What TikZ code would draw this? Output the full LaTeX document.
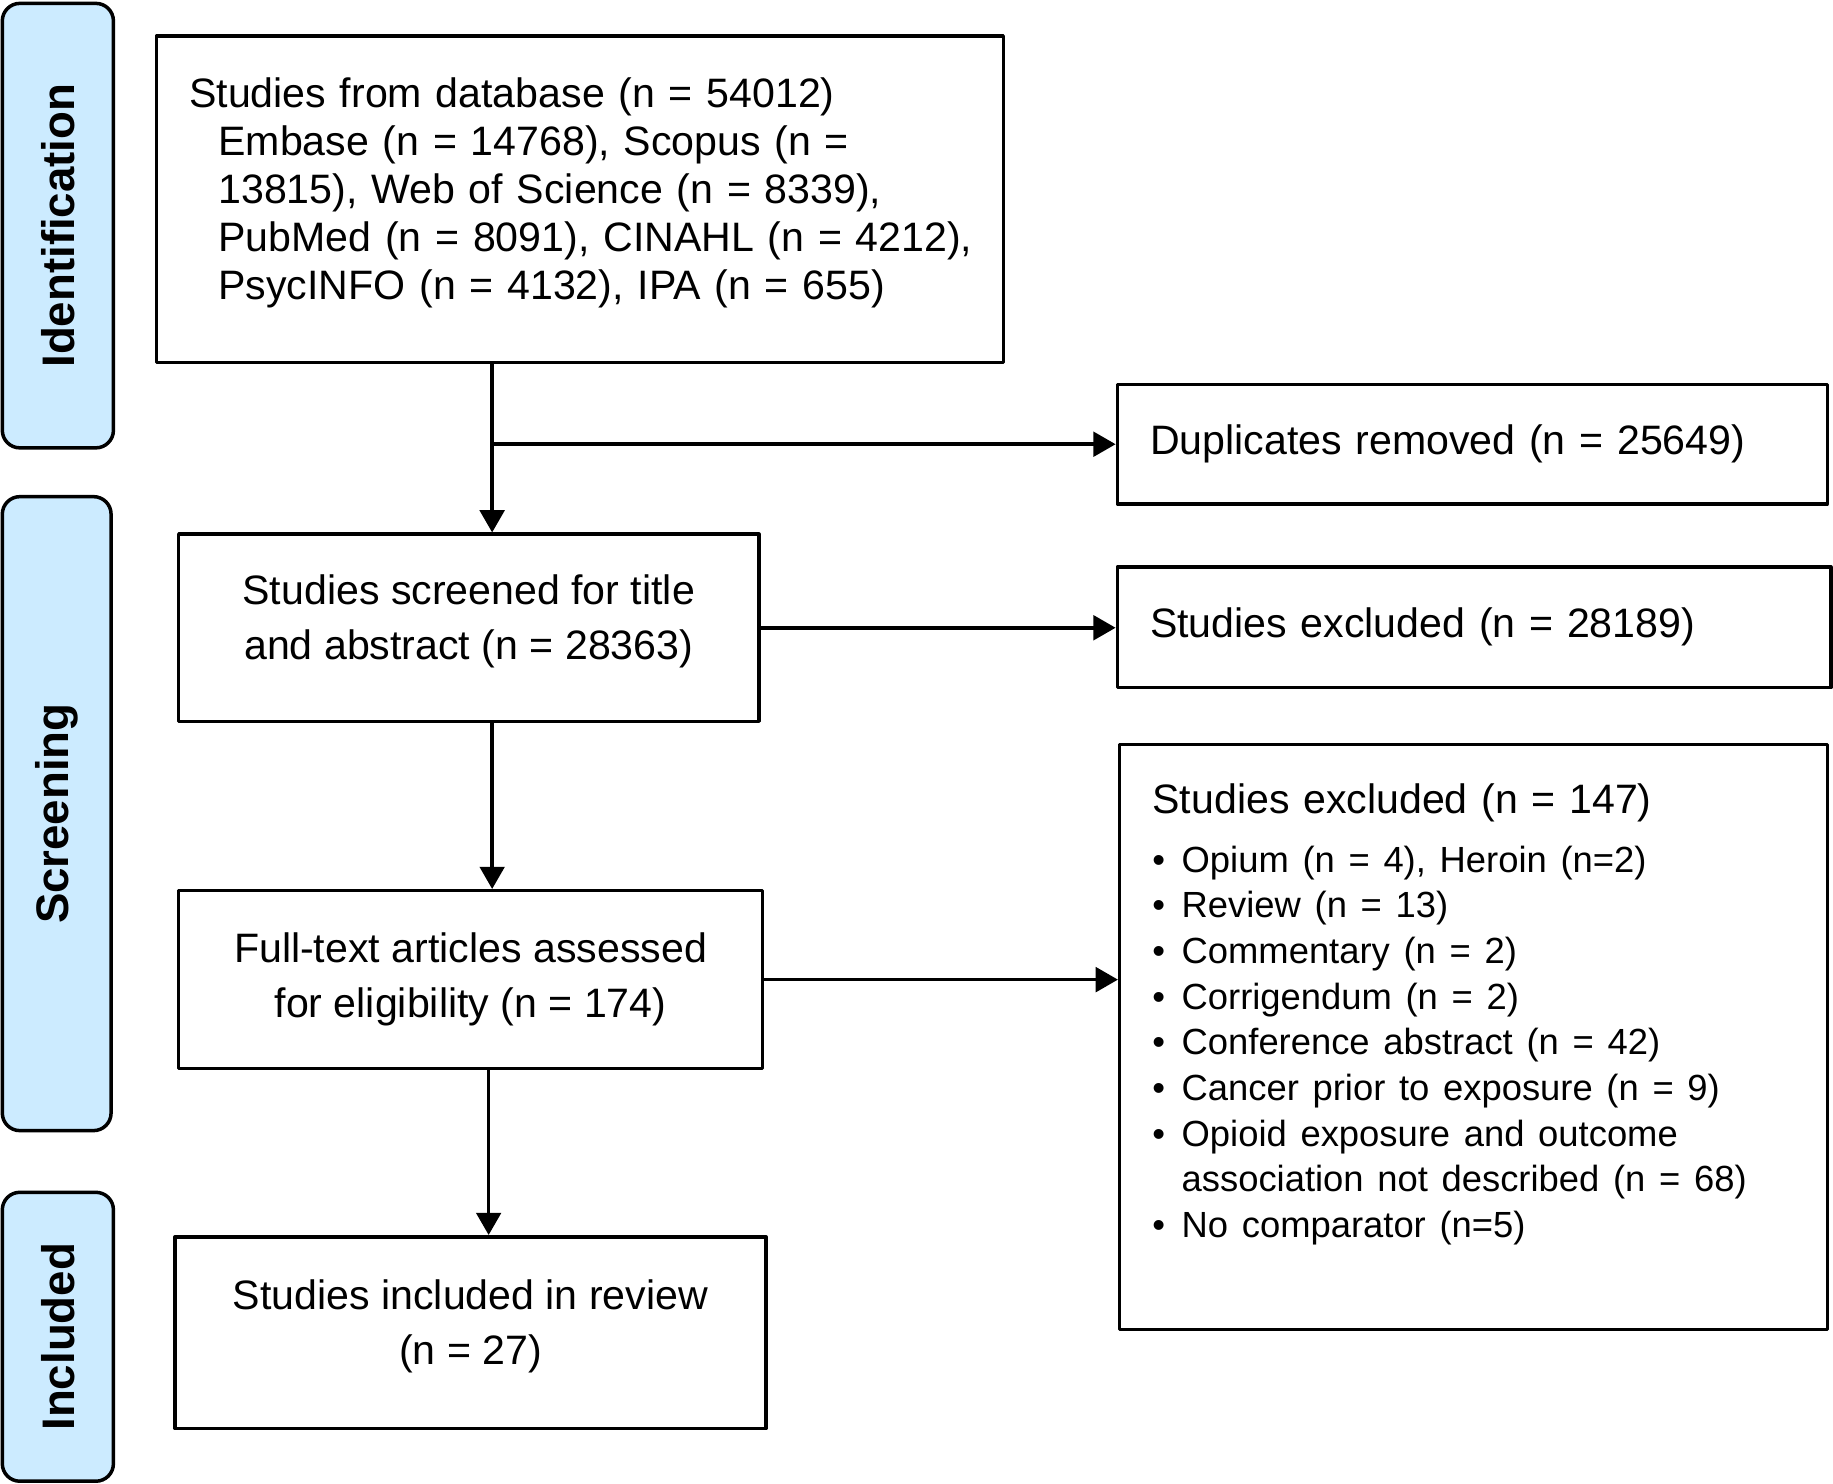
\documentclass[tikz,border=0pt]{standalone}
\usepackage{fontspec}
\setmainfont{Liberation Sans}
\usetikzlibrary{arrows.meta}
\definecolor{ccebff}{rgb}{0.8,0.922,1.}

\begin{document}
\begin{tikzpicture}[line cap=round,line join=round,>={Triangle[length=0.19cm,width=0.21cm]},x=0.01cm,y=-0.01cm,
  box/.style={draw,line width=0.85pt,inner sep=0pt,font=\fontsize{10pt}{13.4pt}\selectfont},
  leftbox/.style={box,align=left,inner xsep=0.28cm},
  phase/.style={draw,line width=0.85pt,fill=ccebff,rounded corners=0.15cm,inner sep=0pt,rotate=90,font=\bfseries\fontsize{11.1pt}{13pt}\selectfont},
  arr/.style={->,line width=0.85pt}]
\useasboundingbox (0,0) rectangle (1568,1269);
\node[phase,minimum width=3.80cm,minimum height=0.95cm] (ident) at (49.5,193) {Identification};
\node[phase,minimum width=5.42cm,minimum height=0.93cm] (screen) at (48.5,696) {Screening};
\node[phase,minimum width=2.47cm,minimum height=0.95cm] (incl) at (49.5,1143.5) {Included};
\node[leftbox,text width=6.68cm,minimum height=2.79cm,font=\fontsize{10pt}{11.7pt}\selectfont] (db) at (496,170.5) {\mbox{Studies from database (n = 54012)}\\
\hspace*{0.25cm}\mbox{Embase (n = 14768), Scopus (n =}\\
\hspace*{0.25cm}\mbox{13815), Web of Science (n = 8339),}\\
\hspace*{0.25cm}\mbox{PubMed (n = 8091), CINAHL (n = 4212),}\\
\hspace*{0.25cm}\mbox{PsycINFO (n = 4132), IPA (n = 655)}\rule[-0.18cm]{0pt}{0pt}};
\node[leftbox,text width=5.51cm,minimum height=1.02cm] (dup) at (1259.5,380) {Duplicates removed (n = 25649)};
\node[box,align=center,minimum width=4.96cm,minimum height=1.60cm] (scr) at (401,537) {Studies screened for title\\and abstract (n = 28363)\rule[-0.18cm]{0pt}{0pt}};
\node[leftbox,text width=5.54cm,minimum height=1.03cm] (exA) at (1261,536.5) {Studies excluded (n = 28189)};
\node[box,align=center,minimum width=4.99cm,minimum height=1.52cm] (full) at (402.5,838) {Full-text articles assessed\\for eligibility (n = 174)};
\node[leftbox,text width=5.49cm,minimum height=5.00cm,font=\fontsize{10pt}{11.1pt}\selectfont] (exB) at (1260.5,887) {\mbox{Studies excluded (n = 147)}\\[0.11cm]
\fontsize{8.85pt}{11.1pt}\selectfont
\makebox[0.25cm][l]{\textbullet}\mbox{Opium (n = 4), Heroin (n=2)}\\
\makebox[0.25cm][l]{\textbullet}\mbox{Review (n = 13)}\\
\makebox[0.25cm][l]{\textbullet}\mbox{Commentary (n = 2)}\\
\makebox[0.25cm][l]{\textbullet}\mbox{Corrigendum (n = 2)}\\
\makebox[0.25cm][l]{\textbullet}\mbox{Conference abstract (n = 42)}\\
\makebox[0.25cm][l]{\textbullet}\mbox{Cancer prior to exposure (n = 9)}\\
\makebox[0.25cm][l]{\textbullet}\mbox{Opioid exposure and outcome}\\
\hspace*{0.25cm}\mbox{association not described (n = 68)}\\
\makebox[0.25cm][l]{\textbullet}\mbox{No comparator (n=5)}\rule[-0.45cm]{0pt}{0pt}};
\node[box,align=center,minimum width=5.05cm,minimum height=1.64cm] (inc) at (402.5,1140) {Studies included in review\\(n = 27)\rule[-0.18cm]{0pt}{0pt}};
\coordinate (j) at (421,380);
\draw[arr] (db.south -| j) -- (scr.north -| j);
\draw[arr] (j) -- (dup);
\draw[arr] (scr.east) -- (scr.east -| exA.west);
\draw[arr] (scr.south -| j) -- (full.north -| j);
\draw[arr] (full.east) -- (full.east -| exB.west);
\draw[arr] (full.south -| 418,0) -- (inc.north -| 418,0);
\end{tikzpicture}
\end{document}
